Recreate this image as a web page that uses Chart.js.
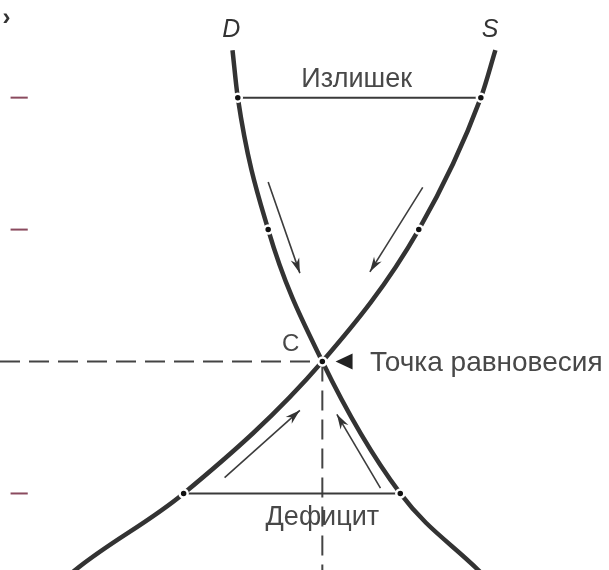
<!DOCTYPE html>
<html>
<head>
<meta charset="utf-8">
<script src="https://cdn.jsdelivr.net/npm/chart.js@4/dist/chart.umd.min.js"></script>
<style>
  body { margin: 0; background: #fff; }
  #marco { width: 609px; height: 570px; }
</style>
</head>
<body>
<div id="marco"><canvas id="grafico" width="609" height="570"></canvas></div>
<script>
// Curva de demanda D (cantidad, precio)
const cantidadD = [2.32, 2.36, 2.59, 3.0, 3.59, 4.18, 4.29];
const precioD   = [4.36, 4.0, 3.0, 2.0, 1.0, 0.42, 0.31];

// Curva de oferta S
const cantidadS = [1.01, 1.13, 1.95, 3.0, 3.73, 4.20, 4.31];
const precioS   = [0.31, 0.42, 1.0, 2.0, 3.0, 4.0, 4.36];

// Equilibrio C
const equilibrio = [3.0, 2.0];

// Excedente (precio alto) y déficit (precio bajo)
const precioExcedente = 4.0;
const excedenteDesde = 2.36, excedenteHasta = 4.20;
const precioDeficit = 1.0;
const deficitDesde = 1.95, deficitHasta = 3.59;

// Puntos intermedios sobre las curvas
const puntosMedios = [[2.59, 3.0], [3.73, 3.0]];

// Flechas: [desdeQ, desdeP, hastaQ, hastaP]
const flechas = [
  [2.59, 3.36, 2.83, 2.67],
  [3.76, 3.32, 3.36, 2.68],
  [2.26, 1.12, 2.83, 1.63],
  [3.44, 1.04, 3.11, 1.60]
];

// Marcas del eje de precios
const marcasPrecio = [4.0, 3.0, 1.0];
const marcaDesde = 0.64, marcaHasta = 0.77;

// Rango de los ejes
const minQ = 0.56, maxQ = 5.17;
const minP = 0.42, maxP = 4.74;

const gris = '#333333';
const texto = '#484848';
const fuente = '"Liberation Sans", Arial, sans-serif';

function pares(xs, ys) {
  return xs.map((x, i) => ({ x: x, y: ys[i] }));
}

let datasets = [];

// puntos (encima de todo)
let puntos = [
  { x: excedenteDesde, y: precioExcedente }, { x: excedenteHasta, y: precioExcedente },
  { x: deficitDesde, y: precioDeficit }, { x: deficitHasta, y: precioDeficit },
  { x: equilibrio[0], y: equilibrio[1] }
];
puntosMedios.forEach(p => puntos.push({ x: p[0], y: p[1] }));
datasets.push({
  data: puntos, showLine: false, order: 0,
  pointRadius: 4, pointBackgroundColor: '#111', pointBorderColor: '#fff', pointBorderWidth: 2.5
});

// curvas D y S
datasets.push({
  data: pares(cantidadD, precioD), showLine: true, order: 5, pointRadius: 0,
  borderColor: gris, borderWidth: 4.5, cubicInterpolationMode: 'monotone'
});
datasets.push({
  data: pares(cantidadS, precioS), showLine: true, order: 5, pointRadius: 0,
  borderColor: gris, borderWidth: 4.5, cubicInterpolationMode: 'monotone'
});

// líneas de excedente y déficit
datasets.push({
  data: [{ x: excedenteDesde, y: precioExcedente }, { x: excedenteHasta, y: precioExcedente }],
  showLine: true, order: 3, pointRadius: 0, borderColor: '#3a3a3a', borderWidth: 2
});
datasets.push({
  data: [{ x: deficitDesde, y: precioDeficit }, { x: deficitHasta, y: precioDeficit }],
  showLine: true, order: 3, pointRadius: 0, borderColor: '#3a3a3a', borderWidth: 2
});

// líneas discontinuas al equilibrio
datasets.push({
  data: [{ x: minQ, y: equilibrio[1] }, { x: equilibrio[0], y: equilibrio[1] }],
  showLine: true, order: 4, pointRadius: 0, borderColor: '#444', borderWidth: 2, borderDash: [20, 9]
});
datasets.push({
  data: [{ x: equilibrio[0], y: equilibrio[1] }, { x: equilibrio[0], y: minP }],
  showLine: true, order: 4, pointRadius: 0, borderColor: '#444', borderWidth: 2, borderDash: [20, 9]
});

// flechas
flechas.forEach(f => {
  datasets.push({
    data: [{ x: f[0], y: f[1] }, { x: f[2], y: f[3] }],
    showLine: true, order: 2, pointRadius: 0, borderColor: '#3c3c3c', borderWidth: 1.6
  });
});

// marcas del eje
marcasPrecio.forEach(p => {
  datasets.push({
    data: [{ x: marcaDesde, y: p }, { x: marcaHasta, y: p }],
    showLine: true, order: 2, pointRadius: 0, borderColor: '#8a4a5e', borderWidth: 2
  });
});

function escribir(ctx, t, x, y, align, font) {
  ctx.font = font;
  ctx.textBaseline = 'alphabetic';
  ctx.textAlign = align;
  ctx.fillText(t, x, y);
}

const etiquetas = {
  id: 'etiquetas',
  afterDatasetsDraw(chart) {
    const ctx = chart.ctx;
    const sx = chart.scales.x, sy = chart.scales.y;
    const px = v => sx.getPixelForValue(v);
    const py = v => sy.getPixelForValue(v);
    ctx.save();

    // puntas de flecha
    ctx.fillStyle = '#333';
    flechas.forEach(f => {
      const x1 = px(f[0]), y1 = py(f[1]), x2 = px(f[2]), y2 = py(f[3]);
      const a = Math.atan2(y2 - y1, x2 - x1);
      const largo = 15, ancho = 4.5;
      ctx.beginPath();
      ctx.moveTo(x2, y2);
      ctx.lineTo(x2 - largo * Math.cos(a) + ancho * Math.sin(a), y2 - largo * Math.sin(a) - ancho * Math.cos(a));
      ctx.lineTo(x2 - largo * 0.7 * Math.cos(a), y2 - largo * 0.7 * Math.sin(a));
      ctx.lineTo(x2 - largo * Math.cos(a) - ancho * Math.sin(a), y2 - largo * Math.sin(a) + ancho * Math.cos(a));
      ctx.closePath();
      ctx.fill();
    });

    // triángulo que señala el equilibrio
    const tx = px(3.10), ty = py(equilibrio[1]);
    ctx.fillStyle = '#222';
    ctx.beginPath();
    ctx.moveTo(tx, ty);
    ctx.lineTo(tx + 17, ty - 8);
    ctx.lineTo(tx + 17, ty + 8);
    ctx.closePath();
    ctx.fill();

    ctx.fillStyle = texto;
    escribir(ctx, 'Излишек', px(3.26), py(4.08), 'center', '27px ' + fuente);
    escribir(ctx, 'Точка равновесия', px(3.36), py(1.93), 'left', '28px ' + fuente);
    escribir(ctx, 'Дефицит', px(3.00), py(0.76), 'center', '27px ' + fuente);
    escribir(ctx, 'C', px(2.76), py(2.08), 'center', '24px ' + fuente);

    ctx.fillStyle = '#333';
    escribir(ctx, 'D', px(2.31), py(4.46), 'center', 'italic 25px ' + fuente);
    escribir(ctx, 'S', px(4.27), py(4.46), 'center', 'italic 25px ' + fuente);
    escribir(ctx, '›', px(minQ + 0.05), py(4.55), 'center', 'bold 24px ' + fuente);
    ctx.restore();
  }
};

new Chart(document.getElementById('grafico'), {
  type: 'scatter',
  data: { datasets: datasets },
  options: {
    responsive: false,
    animation: false,
    layout: { padding: 0, autoPadding: false },
    plugins: { legend: { display: false }, tooltip: { enabled: false } },
    scales: {
      x: { type: 'linear', min: minQ, max: maxQ, display: false },
      y: { type: 'linear', min: minP, max: maxP, display: false }
    }
  },
  plugins: [etiquetas]
});
</script>
</body>
</html>
